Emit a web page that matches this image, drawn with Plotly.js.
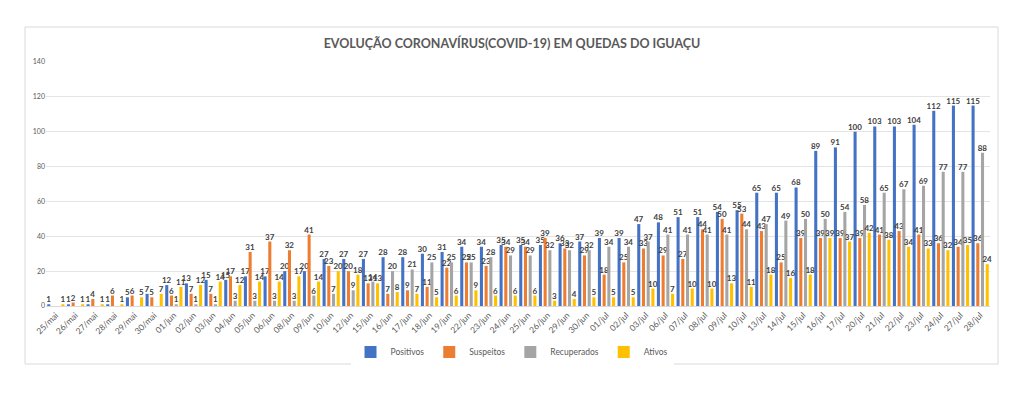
<!DOCTYPE html>
<html>
<head>
<meta charset="utf-8">
<script src="https://cdn.plot.ly/plotly-3.0.1.min.js"></script>
<style>html,body{margin:0;padding:0;background:#fff;}#chart{width:1024px;height:398px;}</style>
</head>
<body>
<div id="chart"></div>
<script>
const categories = ['25/mai','26/mai','27/mai','28/mai','29/mai','30/mai','01/jun','02/jun','03/jun','04/jun','05/jun','06/jun','08/jun','09/jun','10/jun','12/jun','15/jun','16/jun','17/jun','18/jun','19/jun','22/jun','23/jun','24/jun','25/jun','26/jun','29/jun','30/jun','01/jul','02/jul','03/jul','06/jul','07/jul','08/jul','09/jul','10/jul','13/jul','14/jul','15/jul','16/jul','17/jul','20/jul','21/jul','22/jul','23/jul','24/jul','27/jul','28/jul'];
const positivos = [1,1,1,1,5,7,12,13,15,15,17,17,20,20,27,27,27,28,28,30,31,34,34,35,35,35,36,37,39,39,47,48,51,51,54,55,65,65,68,89,91,100,103,103,104,112,115,115];
const suspeitos = [null,2,4,6,6,5,6,7,7,17,31,37,32,41,23,20,13,7,9,11,22,25,23,34,34,39,33,29,18,25,33,29,27,44,50,53,43,25,39,39,39,39,41,43,41,36,34,36];
const recuperados = [null,null,null,null,null,null,1,1,1,3,3,3,3,6,7,9,14,20,21,25,25,25,28,29,29,32,32,32,34,34,37,41,41,41,41,44,47,49,50,50,54,58,65,67,69,77,77,88];
const ativos = [1,1,1,1,5,7,11,12,14,12,14,14,17,14,20,18,13,8,7,5,6,9,6,6,6,3,4,5,5,5,10,7,10,10,13,11,18,16,18,39,37,42,38,34,33,32,35,24];
const seriesNames = ['Positivos','Suspeitos','Recuperados','Ativos'];
const seriesColors = ['#4472C4','#ED7D31','#A5A5A5','#FFC000'];
const seriesValues = [positivos, suspeitos, recuperados, ativos];

const FONT = 'Lato, "Open Sans", sans-serif';
const traces = seriesValues.map((vals, i) => ({
  type: 'bar',
  name: seriesNames[i],
  x: categories,
  y: vals,
  text: vals.map(v => v === null ? '' : String(v)),
  textposition: 'outside',
  constraintext: 'none',
  cliponaxis: false,
  textfont: {family: FONT, size: 8, color: '#404040', weight: 'bold'},
  marker: {color: seriesColors[i]},
  hoverinfo: 'x+y+name'
}));

const layout = {
  width: 1024, height: 398,
  margin: {l: 46, r: 34, t: 62, b: 92},
  paper_bgcolor: '#ffffff', plot_bgcolor: '#ffffff',
  font: {family: FONT, color: '#595959'},
  title: {
    text: 'EVOLUÇÃO CORONAVÍRUS(COVID-19) EM QUEDAS DO IGUAÇU',
    font: {family: FONT, size: 12.5, color: '#595959', weight: 'bold'},
    x: 0.5, xanchor: 'center', xref: 'container',
    y: 1 - 44/398, yanchor: 'middle', yref: 'container'
  },
  barmode: 'group',
  bargap: 0.04,
  bargroupgap: 0.35,
  xaxis: {
    type: 'category',
    tickangle: -45,
    tickfont: {family: FONT, size: 8.5, color: '#595959'},
    showgrid: false,
    showline: true, linecolor: '#d9d9d9', linewidth: 1,
    ticks: '', automargin: false
  },
  yaxis: {
    range: [0, 140], dtick: 20,
    tickfont: {family: FONT, size: 7, color: '#595959'},
    showgrid: true, gridcolor: '#e4e4e4', gridwidth: 1,
    zeroline: false, showline: false, ticks: '', automargin: false
  },
  legend: {
    orientation: 'h',
    xref: 'container', yref: 'container',
    x: 0.5, xanchor: 'center',
    y: 1 - 352/398, yanchor: 'middle',
    font: {family: FONT, size: 8.5, color: '#595959'},
    itemwidth: 30,
    tracegroupgap: 0
  },
  shapes: [{
    type: 'rect', xref: 'paper', yref: 'paper',
    x0: (25-46)/944, x1: (998-46)/944,
    y0: (306-364)/244, y1: (306-27)/244,
    line: {color: '#d9d9d9', width: 1}, fillcolor: 'rgba(0,0,0,0)', layer: 'below'
  }],
  showlegend: true
};

Plotly.newPlot('chart', traces, layout, {displayModeBar: false, staticPlot: true});
</script>
</body>
</html>
